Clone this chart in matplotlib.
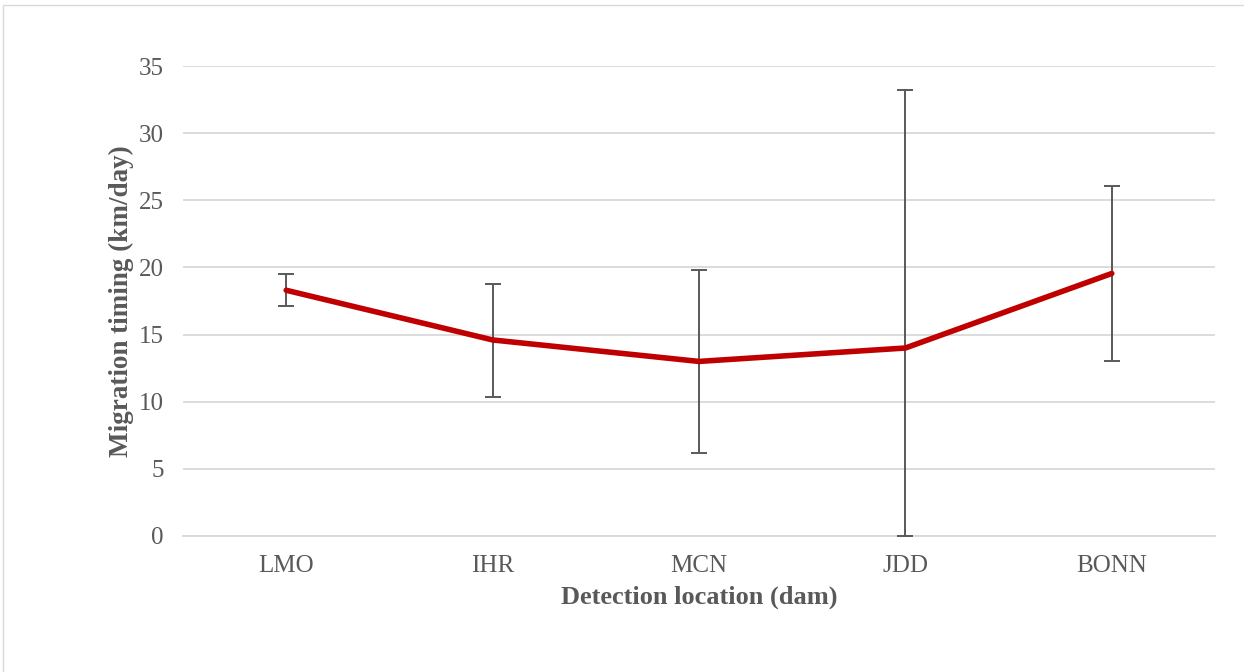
import matplotlib

matplotlib.use("Agg")
import matplotlib.pyplot as plt
from matplotlib.patches import Rectangle

LINE = "#c00000"
ERR = "#595959"
GRID = "#d9d9d9"
TEXT = "#595959"

locations = ["LMO", "IHR", "MCN", "JDD", "BONN"]
timing = [18.3, 14.6, 13.0, 14.0, 19.55]
err_upper = [1.2, 4.2, 6.8, 19.2, 6.55]
err_lower = [1.15, 4.25, 6.85, 14.0, 6.55]

plt.rcParams["font.family"] = ["Liberation Serif", "DejaVu Serif"]

fig = plt.figure(figsize=(12.44, 6.72), dpi=100)
fig.patch.set_facecolor("white")
# faint chart-area border (Excel style), runs off the right and bottom edges
fig.patches.append(Rectangle((3 / 1244, -0.1), 1.2, 1.1 - 5 / 672,
                             transform=fig.transFigure, fill=False,
                             edgecolor=GRID, linewidth=1.0))

ax = fig.add_axes([183 / 1244, 136 / 672, 1032 / 1244, 470 / 672])
x = range(len(locations))
ax.errorbar(x, timing, yerr=[err_lower, err_upper], fmt="none",
            ecolor=ERR, elinewidth=1.4, capsize=6, capthick=1.4, zorder=3)
ax.plot(x, timing, color=LINE, linewidth=4.0, solid_capstyle="round", zorder=4)

ax.set_xlim(-0.5, len(locations) - 0.5)
ax.set_ylim(0, 35)
ax.set_yticks(range(0, 36, 5))
ax.set_xticks(list(x))
ax.set_xticklabels(locations)
ax.yaxis.grid(True, color=GRID, linewidth=1.3)
ax.set_axisbelow(True)
for side in ["top", "right", "left"]:
    ax.spines[side].set_visible(False)
ax.spines["bottom"].set_color(GRID)
ax.spines["bottom"].set_linewidth(1.3)
ax.tick_params(axis="both", length=0, colors=TEXT, labelsize=18)
ax.tick_params(axis="y", pad=14)
ax.tick_params(axis="x", pad=14)

ax.set_xlabel("Detection location (dam)", color=TEXT, fontsize=19,
              fontweight="bold", labelpad=6)
ax.set_ylabel("Migration timing (km/day)", color=TEXT, fontsize=19.5,
              fontweight="bold", labelpad=3)

fig.savefig("out.png", facecolor="white")
